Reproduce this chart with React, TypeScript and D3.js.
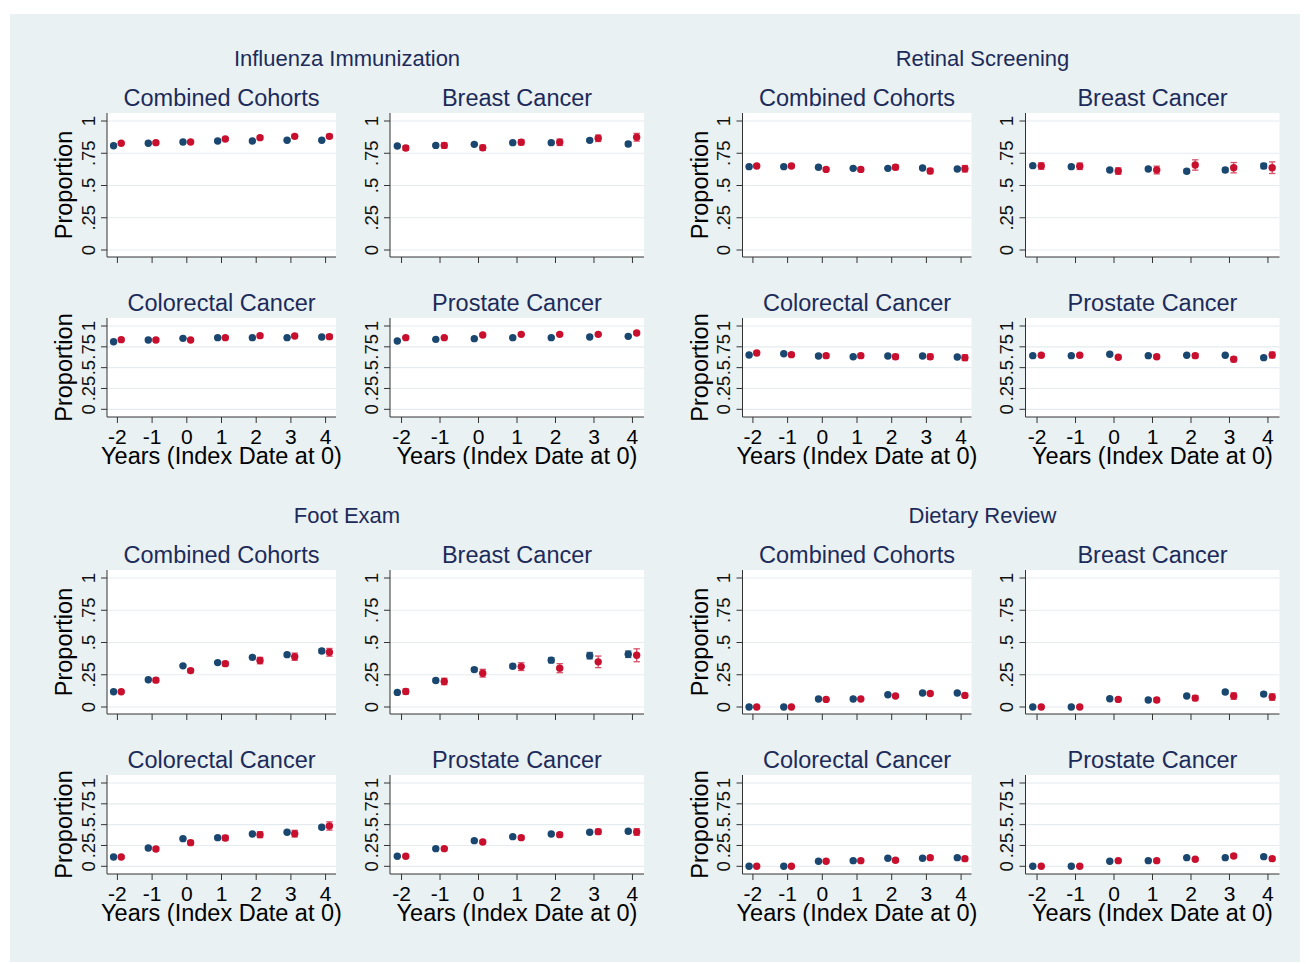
import React from "react";
import * as d3 from "d3";

const years = [-2, -1, 0, 1, 2, 3, 4];
const yTicks = [0, 0.25, 0.5, 0.75, 1];
const yTickLabels = ["0", ".25", ".5", ".75", "1"];
const outcomes = ["Influenza Immunization", "Retinal Screening", "Foot Exam", "Dietary Review"];
const cohorts = ["Combined Cohorts", "Breast Cancer", "Colorectal Cancer", "Prostate Cancer"];

// each outcome: 4 cohorts (combined, breast, colorectal, prostate) x 7 years
const fluBlue = [
  [0.808, 0.827, 0.837, 0.845, 0.845, 0.851, 0.851],
  [0.806, 0.811, 0.819, 0.832, 0.832, 0.85, 0.822],
  [0.811, 0.832, 0.852, 0.86, 0.86, 0.86, 0.868],
  [0.82, 0.84, 0.848, 0.86, 0.86, 0.868, 0.876],
];
const fluBlueCI = [
  [0.004, 0.004, 0.004, 0.005, 0.005, 0.006, 0.006],
  [0.007, 0.008, 0.008, 0.008, 0.009, 0.01, 0.015],
  [0.006, 0.007, 0.007, 0.008, 0.008, 0.009, 0.01],
  [0.006, 0.007, 0.007, 0.008, 0.008, 0.009, 0.012],
];
const fluRed = [
  [0.827, 0.832, 0.837, 0.86, 0.871, 0.881, 0.881],
  [0.791, 0.811, 0.793, 0.835, 0.835, 0.866, 0.874],
  [0.836, 0.832, 0.832, 0.86, 0.884, 0.88, 0.872],
  [0.86, 0.86, 0.892, 0.9, 0.9, 0.9, 0.916],
];
const fluRedCI = [
  [0.008, 0.008, 0.009, 0.01, 0.012, 0.013, 0.015],
  [0.018, 0.02, 0.02, 0.02, 0.025, 0.025, 0.03],
  [0.015, 0.015, 0.015, 0.016, 0.02, 0.02, 0.025],
  [0.012, 0.012, 0.012, 0.012, 0.015, 0.015, 0.018],
];

const retBlue = [
  [0.646, 0.646, 0.641, 0.633, 0.633, 0.636, 0.628],
  [0.654, 0.646, 0.62, 0.628, 0.61, 0.62, 0.651],
  [0.652, 0.667, 0.64, 0.631, 0.64, 0.64, 0.628],
  [0.644, 0.644, 0.66, 0.644, 0.648, 0.648, 0.62],
];
const retBlueCI = [
  [0.005, 0.005, 0.006, 0.006, 0.006, 0.007, 0.008],
  [0.01, 0.01, 0.01, 0.01, 0.015, 0.015, 0.02],
  [0.008, 0.008, 0.008, 0.009, 0.01, 0.01, 0.012],
  [0.008, 0.008, 0.008, 0.008, 0.01, 0.01, 0.012],
];
const retRed = [
  [0.651, 0.651, 0.625, 0.625, 0.641, 0.612, 0.63],
  [0.651, 0.649, 0.612, 0.62, 0.659, 0.638, 0.638],
  [0.676, 0.656, 0.644, 0.644, 0.631, 0.631, 0.62],
  [0.648, 0.648, 0.624, 0.631, 0.644, 0.6, 0.652],
];
const retRedCI = [
  [0.012, 0.013, 0.013, 0.014, 0.018, 0.02, 0.025],
  [0.025, 0.025, 0.025, 0.03, 0.04, 0.04, 0.045],
  [0.02, 0.02, 0.022, 0.025, 0.028, 0.03, 0.035],
  [0.02, 0.02, 0.02, 0.022, 0.025, 0.03, 0.035],
];

const footBlue = [
  [0.118, 0.211, 0.319, 0.344, 0.385, 0.406, 0.434],
  [0.113, 0.205, 0.29, 0.316, 0.363, 0.398, 0.409],
  [0.112, 0.22, 0.332, 0.344, 0.388, 0.408, 0.468],
  [0.12, 0.212, 0.308, 0.356, 0.388, 0.408, 0.42],
];
const footBlueCI = [
  [0.005, 0.008, 0.008, 0.008, 0.01, 0.012, 0.015],
  [0.008, 0.012, 0.015, 0.015, 0.02, 0.025, 0.025],
  [0.008, 0.01, 0.01, 0.012, 0.012, 0.015, 0.018],
  [0.008, 0.01, 0.01, 0.012, 0.012, 0.015, 0.02],
];
const footRed = [
  [0.118, 0.208, 0.282, 0.336, 0.36, 0.39, 0.424],
  [0.12, 0.198, 0.262, 0.313, 0.301, 0.35, 0.401],
  [0.112, 0.208, 0.284, 0.34, 0.38, 0.392, 0.484],
  [0.12, 0.212, 0.292, 0.344, 0.38, 0.416, 0.412],
];
const footRedCI = [
  [0.01, 0.015, 0.015, 0.017, 0.025, 0.028, 0.03],
  [0.02, 0.025, 0.03, 0.03, 0.035, 0.045, 0.05],
  [0.015, 0.02, 0.025, 0.03, 0.035, 0.04, 0.05],
  [0.015, 0.015, 0.02, 0.02, 0.025, 0.03, 0.04],
];

const dietBlue = [
  [0, 0, 0.062, 0.062, 0.095, 0.108, 0.108],
  [0, 0, 0.064, 0.054, 0.085, 0.116, 0.1],
  [0, 0, 0.06, 0.068, 0.096, 0.096, 0.104],
  [0, 0, 0.06, 0.068, 0.104, 0.104, 0.116],
];
const dietBlueCI = [
  [0.002, 0.002, 0.004, 0.004, 0.005, 0.006, 0.007],
  [0.003, 0.003, 0.006, 0.007, 0.01, 0.012, 0.013],
  [0.003, 0.003, 0.006, 0.007, 0.01, 0.012, 0.012],
  [0.003, 0.003, 0.006, 0.007, 0.01, 0.01, 0.012],
];
const dietRed = [
  [0, 0, 0.059, 0.062, 0.085, 0.105, 0.09],
  [0, 0, 0.059, 0.054, 0.069, 0.085, 0.077],
  [0, 0, 0.06, 0.068, 0.072, 0.104, 0.092],
  [0, 0, 0.068, 0.068, 0.084, 0.124, 0.092],
];
const dietRedCI = [
  [0.003, 0.003, 0.006, 0.006, 0.01, 0.013, 0.015],
  [0.005, 0.005, 0.012, 0.015, 0.02, 0.025, 0.025],
  [0.004, 0.004, 0.012, 0.014, 0.02, 0.022, 0.025],
  [0.004, 0.004, 0.012, 0.014, 0.016, 0.02, 0.02],
];

const groups = [
  { blue: fluBlue, blueCI: fluBlueCI, red: fluRed, redCI: fluRedCI },
  { blue: retBlue, blueCI: retBlueCI, red: retRed, redCI: retRedCI },
  { blue: footBlue, blueCI: footBlueCI, red: footRed, redCI: footRedCI },
  { blue: dietBlue, blueCI: dietBlueCI, red: dietRed, redCI: dietRedCI },
];

const W = 1309;
const H = 964;
const GROUP_DX = 635.5;
const GROUP_DY = 457;
const FONT = "'Liberation Sans', Arial, sans-serif";
const BLUE = "#1a476f";
const BLUE_CI = "#3f6a90";
const RED = "#c8102e";
const RED_CI = "#d9506a";
const TITLE = "#1c2b5a";

// plot regions within the first group
const cols = [
  { left: 107, right: 336 },
  { left: 390, right: 644 },
];
const rows = [
  { top: 113, bottom: 257, y1: 121, y0: 250, title: 98 },
  { top: 318, bottom: 417, y1: 326, y0: 409.3, title: 303 },
];

const Panel = ({ gx, gy, col, row, title, blue, blueCI, red, redCI }) => {
  const c = cols[col];
  const r = rows[row];
  const left = c.left + gx;
  const right = c.right + gx;
  const top = r.top + gy;
  const bottom = r.bottom + gy;

  const x = d3.scaleLinear().domain([-2.3, 4.3]).range([left, right]);
  const y = d3.scaleLinear().domain([0, 1]).range([r.y0 + gy, r.y1 + gy]);

  const series = [
    { vals: blue, ci: blueCI, off: -0.11, color: BLUE, ciColor: BLUE_CI },
    { vals: red, ci: redCI, off: 0.11, color: RED, ciColor: RED_CI },
  ];

  return (
    <g>
      <rect x={left} y={top} width={right - left} height={bottom - top} fill="#fff" />
      {yTicks.map((t) => (
        <line key={t} x1={left} x2={right} y1={y(t)} y2={y(t)} stroke="#e4ecef" strokeWidth={1.2} />
      ))}
      <text
        x={(left + right) / 2}
        y={r.title + gy}
        textAnchor="middle"
        dominantBaseline="central"
        fontSize={23.5}
        fill={TITLE}
      >
        {title}
      </text>

      {/* y axis */}
      <line x1={left} x2={left} y1={top} y2={bottom} stroke="#333" strokeWidth={1} />
      {yTicks.map((t, i) => (
        <g key={t}>
          <line x1={left - 6} x2={left} y1={y(t)} y2={y(t)} stroke="#333" />
          <text
            transform={`translate(${left - 19},${y(t)}) rotate(-90)`}
            textAnchor="middle"
            dominantBaseline="central"
            fontSize={18.5}
            fill="#111"
          >
            {yTickLabels[i]}
          </text>
        </g>
      ))}
      {col === 0 && (
        <text
          transform={`translate(${64 + gx},${(top + bottom) / 2}) rotate(-90)`}
          textAnchor="middle"
          dominantBaseline="central"
          fontSize={23.5}
          fill="#000"
        >
          Proportion
        </text>
      )}

      {/* x axis */}
      <line x1={left} x2={right} y1={bottom} y2={bottom} stroke="#333" strokeWidth={1} />
      {years.map((yr) => (
        <g key={yr}>
          <line x1={x(yr)} x2={x(yr)} y1={bottom} y2={bottom + 6} stroke="#333" />
          {row === 1 && (
            <text x={x(yr)} y={bottom + 19} textAnchor="middle" dominantBaseline="central" fontSize={21} fill="#000">
              {yr}
            </text>
          )}
        </g>
      ))}
      {row === 1 && (
        <text
          x={(left + right) / 2}
          y={bottom + 39}
          textAnchor="middle"
          dominantBaseline="central"
          fontSize={23.5}
          fill="#000"
        >
          Years (Index Date at 0)
        </text>
      )}

      {/* estimates with confidence intervals */}
      {series.map((s, si) => (
        <g key={si}>
          {years.map((yr, i) => {
            const cx = x(yr + s.off);
            const lo = y(s.vals[i] - s.ci[i]);
            const hi = y(s.vals[i] + s.ci[i]);
            return (
              <g key={yr}>
                <line x1={cx} x2={cx} y1={lo} y2={hi} stroke={s.ciColor} strokeWidth={1.3} />
                <line x1={cx - 3.2} x2={cx + 3.2} y1={lo} y2={lo} stroke={s.ciColor} strokeWidth={1.3} />
                <line x1={cx - 3.2} x2={cx + 3.2} y1={hi} y2={hi} stroke={s.ciColor} strokeWidth={1.3} />
                <circle cx={cx} cy={y(s.vals[i])} r={3.7} fill={s.color} />
              </g>
            );
          })}
        </g>
      ))}
    </g>
  );
};

export default function App() {
  return (
    <svg
      width={W}
      height={H}
      style={{ position: "absolute", left: 0, top: 0 }}
      fontFamily={FONT}
    >
      <rect width={W} height={H} fill="#fff" />
      <rect x={10} y={14} width={1290} height={948} fill="#eaf1f3" />
      {outcomes.map((name, gi) => {
        const gx = (gi % 2) * GROUP_DX;
        const gy = Math.floor(gi / 2) * GROUP_DY;
        const g = groups[gi];
        return (
          <g key={name}>
            <text
              x={347 + gx}
              y={58 + gy}
              textAnchor="middle"
              dominantBaseline="central"
              fontSize={22}
              fill={TITLE}
            >
              {name}
            </text>
            {cohorts.map((co, ci) => (
              <Panel
                key={co}
                gx={gx}
                gy={gy}
                col={ci % 2}
                row={Math.floor(ci / 2)}
                title={co}
                blue={g.blue[ci]}
                blueCI={g.blueCI[ci]}
                red={g.red[ci]}
                redCI={g.redCI[ci]}
              />
            ))}
          </g>
        );
      })}
    </svg>
  );
}
